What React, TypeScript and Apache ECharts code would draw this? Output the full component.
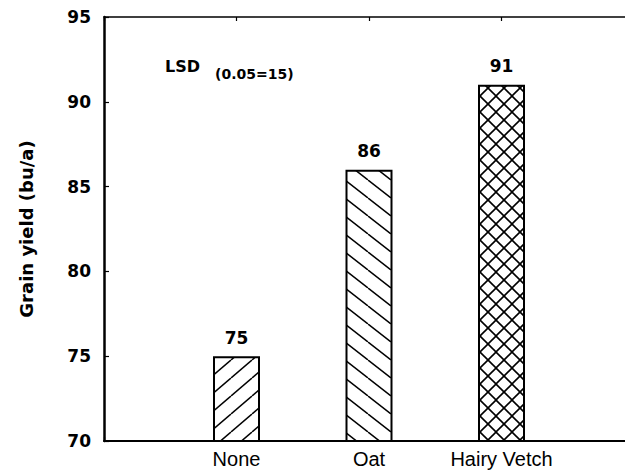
import React, { useEffect, useRef } from "react";
import * as echarts from "echarts";

const categories = ["None", "Oat", "Hairy Vetch"];
const yields = [75, 86, 91];
const yMin = 70;
const yMax = 95;
const yStep = 5;
const yTitle = "Grain yield (bu/a)";
const lsdMain = "LSD";
const lsdSub = "(0.05=15)";

type Kind = "fwd" | "back" | "cross";

function hatchTile(w: number, h: number, kind: Kind, lw: number) {
  const c = document.createElement("canvas");
  c.width = w;
  c.height = h;
  const ctx = c.getContext("2d")!;
  ctx.fillStyle = "#ffffff";
  ctx.fillRect(0, 0, w, h);
  ctx.strokeStyle = "#000000";
  ctx.lineWidth = lw;
  const fwd = () => {
    for (const dx of [-w, 0, w]) {
      ctx.beginPath();
      ctx.moveTo(dx, h);
      ctx.lineTo(dx + w, 0);
      ctx.stroke();
    }
  };
  const back = () => {
    for (const dx of [-w, 0, w]) {
      ctx.beginPath();
      ctx.moveTo(dx, 0);
      ctx.lineTo(dx + w, h);
      ctx.stroke();
    }
  };
  if (kind === "fwd" || kind === "cross") fwd();
  if (kind === "back" || kind === "cross") back();
  return { image: c, repeat: "repeat", imageWidth: w, imageHeight: h } as any;
}

export default function App() {
  const ref = useRef<HTMLDivElement>(null);
  useEffect(() => {
    if (!ref.current) return;
    const chart = echarts.init(ref.current, null, { renderer: "svg" });
    const patterns = [
      hatchTile(21, 18, "fwd", 1.5),
      hatchTile(23, 18, "back", 1.5),
      hatchTile(16, 16, "cross", 1.6),
    ];
    const axisCats = ["", ...categories, ""];
    const seriesData: any[] = [
      "-",
      ...yields.map((v, i) => ({ value: v, itemStyle: { color: patterns[i] } })),
      "-",
    ];
    const boldFont = "DejaVu Sans";
    chart.setOption({
      animation: false,
      backgroundColor: "#ffffff",
      grid: {
        left: 104,
        width: 530,
        top: 17,
        bottom: 32,
        containLabel: false,
        outerBoundsMode: "none",
      },
      xAxis: [
        {
          type: "category",
          data: axisCats,
          boundaryGap: false,
          position: "bottom",
          axisLine: { lineStyle: { color: "#000", width: 2 } },
          axisTick: { inside: true, length: 4, lineStyle: { color: "#000", width: 1.2 } },
          axisLabel: {
            color: "#000",
            fontFamily: "Liberation Sans",
            fontSize: 20,
            margin: 8,
            interval: 0,
          },
          splitLine: { show: false },
        },
        {
          type: "category",
          data: axisCats,
          boundaryGap: false,
          position: "top",
          axisLine: { lineStyle: { color: "#000", width: 1.5 } },
          axisTick: { inside: true, length: 4, lineStyle: { color: "#000", width: 1.2 } },
          axisLabel: { show: false },
          splitLine: { show: false },
        },
      ],
      yAxis: {
        type: "value",
        min: yMin,
        max: yMax,
        interval: yStep,
        name: yTitle,
        nameLocation: "middle",
        nameGap: 69,
        nameTextStyle: {
          color: "#000",
          fontFamily: boldFont,
          fontWeight: "bold",
          fontSize: 18,
        },
        axisLine: { show: true, lineStyle: { color: "#000", width: 2.5 } },
        axisTick: { show: true, inside: true, length: 5, lineStyle: { color: "#000", width: 1.2 } },
        axisLabel: {
          color: "#000",
          fontFamily: boldFont,
          fontWeight: "bold",
          fontSize: 17,
          margin: 13,
        },
        splitLine: { show: false },
      },
      series: [
        {
          type: "bar",
          xAxisIndex: 0,
          data: seriesData,
          barWidth: 47,
          itemStyle: { borderColor: "#000", borderWidth: 2 },
          label: {
            show: true,
            position: "top",
            distance: 10,
            color: "#000",
            fontFamily: boldFont,
            fontWeight: "bold",
            fontSize: 17,
          },
        },
      ],
      graphic: [
        {
          type: "text",
          left: 165,
          top: 58,
          style: {
            text: lsdMain,
            fill: "#000",
            font: "bold 16px 'DejaVu Sans'",
          },
        },
        {
          type: "text",
          left: 215,
          top: 67,
          style: {
            text: lsdSub,
            fill: "#000",
            font: "bold 14px 'DejaVu Sans'",
          },
        },
      ],
    });
    return () => chart.dispose();
  }, []);
  return (
    <div
      ref={ref}
      style={{ position: "fixed", left: 0, top: 0, width: 625, height: 473, background: "#fff" }}
    />
  );
}
